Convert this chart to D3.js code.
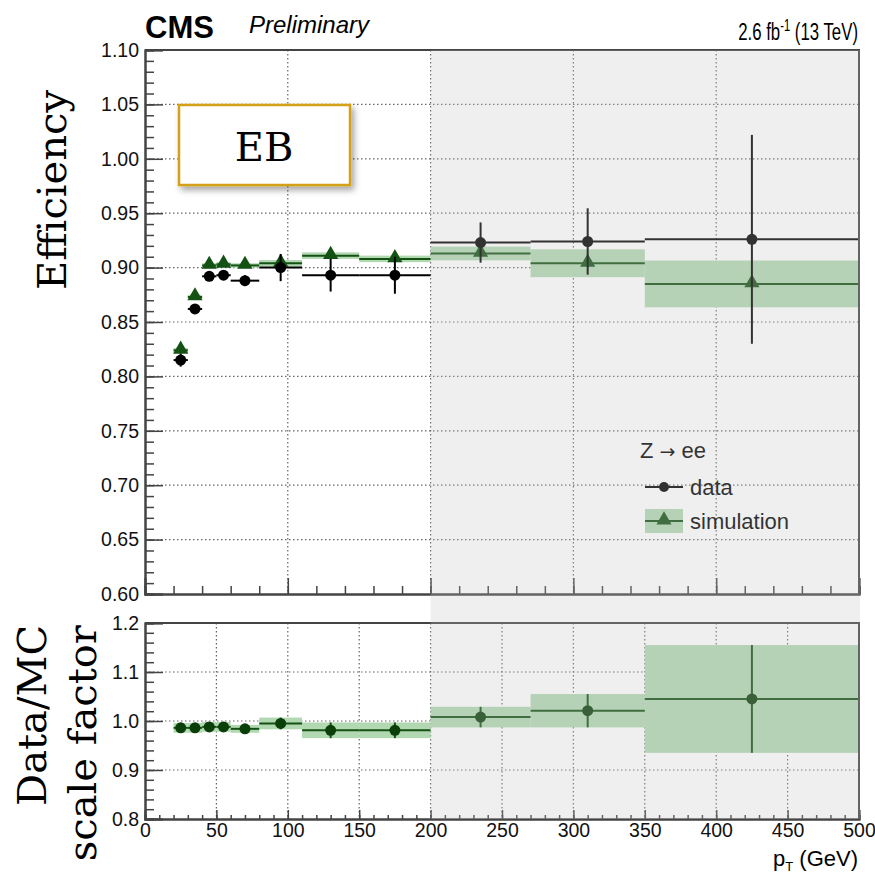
<!DOCTYPE html>
<html>
  <head>
    <meta charset="UTF-8">
    <title>EB efficiency</title>
    <script src="https://d3js.org/d3.v7.min.js"></script>
    <style>
      body { margin: 0; background: #fff; }
      text { font-family: "Liberation Sans", Arial, sans-serif; }
    </style>
  </head>
  <body>
    <svg width="875" height="882"></svg>
    <script>
      // pT bins (GeV)
      var binLo = [20, 30, 40, 50, 60, 80, 110, 150, 200, 270, 350];
      var binHi = [30, 40, 50, 60, 80, 110, 150, 200, 270, 350, 500];
      var ptCenter = [25, 35, 45, 55, 70, 95, 130, 175, 235, 310, 425];

      // efficiency in data
      var dataEff = [0.815, 0.862, 0.892, 0.893, 0.888, 0.900, 0.893, 0.893, 0.923, 0.924, 0.926];
      var dataErr = [0.006, 0.004, 0.004, 0.004, 0.005, 0.0125, 0.015, 0.017, 0.0185, 0.0305, 0.096];

      // efficiency in simulation
      var simEff = [0.824, 0.873, 0.902, 0.903, 0.902, 0.904, 0.911, 0.908, 0.913, 0.904, 0.885];
      var simErr = [0.002, 0.002, 0.002, 0.002, 0.002, 0.003, 0.003, 0.003, 0.0063, 0.0128, 0.0215];

      // data/MC scale factor
      var sfVal = [0.986, 0.986, 0.988, 0.988, 0.984, 0.995, 0.981, 0.981, 1.008, 1.021, 1.045];
      var sfErr = [0.010, 0.010, 0.010, 0.010, 0.008, 0.012, 0.016, 0.016, 0.021, 0.034, 0.110];

      var topTicks = [0.60, 0.65, 0.70, 0.75, 0.80, 0.85, 0.90, 0.95, 1.00, 1.05, 1.10];
      var botTicks = [0.8, 0.9, 1.0, 1.1, 1.2];
      var xTicks = [0, 50, 100, 150, 200, 250, 300, 350, 400, 450, 500];

      var svg = d3.select("svg");
      var simColor = "#145214", bandColor = "#b2d8b2", sfColor = "#0a3f0a";
      var axisColor = "#444";

      var x = d3.scaleLinear().domain([0, 500]).range([145, 859]);
      var yTop = d3.scaleLinear().domain([0.6, 1.1]).range([594, 50]);
      var yBot = d3.scaleLinear().domain([0.8, 1.2]).range([819, 623]);

      var defs = svg.append("defs");
      var shadow = defs.append("filter").attr("id", "shadow")
          .attr("x", "-20%").attr("y", "-20%").attr("width", "150%").attr("height", "160%");
      shadow.append("feDropShadow").attr("dx", 3).attr("dy", 4)
          .attr("stdDeviation", 3).attr("flood-color", "#000").attr("flood-opacity", 0.35);

      var idx = d3.range(binLo.length);

      // grid lines
      function dotted(sel) {
        return sel.attr("stroke", "#666").attr("stroke-width", 1.2)
            .attr("stroke-dasharray", "1.5,2.5").attr("fill", "none");
      }
      var grid = svg.append("g");
      [100, 200, 300, 400].forEach(function(v) {
        dotted(grid.append("line").attr("x1", x(v)).attr("x2", x(v)).attr("y1", yTop(1.1)).attr("y2", yTop(0.6)));
      });
      d3.range(0.65, 1.06, 0.05).forEach(function(v) {
        dotted(grid.append("line").attr("x1", x(0)).attr("x2", x(500)).attr("y1", yTop(v)).attr("y2", yTop(v)));
      });
      d3.range(50, 451, 50).forEach(function(v) {
        dotted(grid.append("line").attr("x1", x(v)).attr("x2", x(v)).attr("y1", yBot(1.2)).attr("y2", yBot(0.8)));
      });
      [0.9, 1.0, 1.1].forEach(function(v) {
        dotted(grid.append("line").attr("x1", x(0)).attr("x2", x(500)).attr("y1", yBot(v)).attr("y2", yBot(v)));
      });

      // EB box
      svg.append("rect").attr("x", 179).attr("y", 105).attr("width", 171).attr("height", 80)
          .attr("fill", "#fff").attr("stroke", "#d4a017").attr("stroke-width", 2.5)
          .attr("filter", "url(#shadow)");
      svg.append("text").attr("x", 264).attr("y", 161).attr("text-anchor", "middle")
          .style("font-family", "'DejaVu Serif', serif").style("font-size", "40px").text("EB");

      var tri = d3.symbol().type(d3.symbolTriangle).size(100);

      // simulation: band + line + triangle
      var sim = svg.append("g");
      sim.selectAll("rect").data(idx).join("rect")
          .attr("x", function(i) { return x(binLo[i]); })
          .attr("width", function(i) { return x(binHi[i]) - x(binLo[i]); })
          .attr("y", function(i) { return yTop(simEff[i] + simErr[i]); })
          .attr("height", function(i) { return yTop(simEff[i] - simErr[i]) - yTop(simEff[i] + simErr[i]); })
          .attr("fill", bandColor);
      sim.selectAll("line").data(idx).join("line")
          .attr("x1", function(i) { return x(binLo[i]); })
          .attr("x2", function(i) { return x(binHi[i]); })
          .attr("y1", function(i) { return yTop(simEff[i]); })
          .attr("y2", function(i) { return yTop(simEff[i]); })
          .attr("stroke", simColor).attr("stroke-width", 2);
      sim.selectAll("path").data(idx).join("path")
          .attr("d", tri)
          .attr("transform", function(i) { return "translate(" + x(ptCenter[i]) + "," + (yTop(simEff[i]) - 1) + ")"; })
          .attr("fill", simColor);

      // data: error bars + circle
      var dat = svg.append("g");
      dat.selectAll("line.h").data(idx).join("line").attr("class", "h")
          .attr("x1", function(i) { return x(binLo[i]); })
          .attr("x2", function(i) { return x(binHi[i]); })
          .attr("y1", function(i) { return yTop(dataEff[i]); })
          .attr("y2", function(i) { return yTop(dataEff[i]); })
          .attr("stroke", "#000").attr("stroke-width", 2);
      dat.selectAll("line.v").data(idx).join("line").attr("class", "v")
          .attr("x1", function(i) { return x(ptCenter[i]); })
          .attr("x2", function(i) { return x(ptCenter[i]); })
          .attr("y1", function(i) { return yTop(dataEff[i] + dataErr[i]); })
          .attr("y2", function(i) { return yTop(dataEff[i] - dataErr[i]); })
          .attr("stroke", "#000").attr("stroke-width", 2);
      dat.selectAll("circle").data(idx).join("circle")
          .attr("cx", function(i) { return x(ptCenter[i]); })
          .attr("cy", function(i) { return yTop(dataEff[i]); })
          .attr("r", 5.5).attr("fill", "#000");

      // ratio panel
      var rat = svg.append("g");
      rat.selectAll("rect").data(idx).join("rect")
          .attr("x", function(i) { return x(binLo[i]); })
          .attr("width", function(i) { return x(binHi[i]) - x(binLo[i]); })
          .attr("y", function(i) { return yBot(sfVal[i] + sfErr[i]); })
          .attr("height", function(i) { return yBot(sfVal[i] - sfErr[i]) - yBot(sfVal[i] + sfErr[i]); })
          .attr("fill", bandColor);
      rat.selectAll("line.h").data(idx).join("line").attr("class", "h")
          .attr("x1", function(i) { return x(binLo[i]); })
          .attr("x2", function(i) { return x(binHi[i]); })
          .attr("y1", function(i) { return yBot(sfVal[i]); })
          .attr("y2", function(i) { return yBot(sfVal[i]); })
          .attr("stroke", simColor).attr("stroke-width", 2);
      rat.selectAll("line.v").data(idx).join("line").attr("class", "v")
          .attr("x1", function(i) { return x(ptCenter[i]); })
          .attr("x2", function(i) { return x(ptCenter[i]); })
          .attr("y1", function(i) { return yBot(sfVal[i] + sfErr[i]); })
          .attr("y2", function(i) { return yBot(sfVal[i] - sfErr[i]); })
          .attr("stroke", simColor).attr("stroke-width", 2);
      rat.selectAll("circle").data(idx).join("circle")
          .attr("cx", function(i) { return x(ptCenter[i]); })
          .attr("cy", function(i) { return yBot(sfVal[i]); })
          .attr("r", 5.5).attr("fill", sfColor);

      // legend
      var leg = svg.append("g");
      var zee = leg.append("text").attr("x", 640).attr("y", 458).style("font-size", "22px");
      zee.append("tspan").text("Z ");
      zee.append("tspan").style("font-family", "'DejaVu Sans', sans-serif").style("font-size", "19px").text("\u2192");
      zee.append("tspan").text(" ee");
      leg.append("line").attr("x1", 645).attr("x2", 683).attr("y1", 487).attr("y2", 487)
          .attr("stroke", "#000").attr("stroke-width", 2);
      leg.append("circle").attr("cx", 664).attr("cy", 487).attr("r", 5).attr("fill", "#000");
      leg.append("text").attr("x", 690).attr("y", 495).style("font-size", "22px").text("data");
      leg.append("rect").attr("x", 645).attr("y", 509).attr("width", 38).attr("height", 24).attr("fill", bandColor);
      leg.append("line").attr("x1", 645).attr("x2", 683).attr("y1", 521).attr("y2", 521)
          .attr("stroke", simColor).attr("stroke-width", 2);
      leg.append("path").attr("d", tri).attr("transform", "translate(664,520)").attr("fill", simColor);
      leg.append("text").attr("x", 690).attr("y", 529).style("font-size", "22px").text("simulation");

      // axes
      function styleAxis(g) {
        g.select(".domain").attr("stroke", axisColor).attr("stroke-width", 2);
        g.selectAll(".tick line").attr("stroke", axisColor).attr("stroke-width", 1.5);
        g.selectAll(".tick text").attr("fill", "#111").style("font-size", "19.5px")
            .style("font-family", "'Liberation Sans', Arial, sans-serif");
      }
      var fmt2 = d3.format(".2f"), fmt1 = d3.format(".1f");

      svg.append("g").attr("transform", "translate(145,0)")
          .call(d3.axisRight(yTop).tickValues(d3.range(0.60, 1.1001, 0.01)).tickSize(9).tickFormat(""))
          .call(styleAxis);
      svg.append("g").attr("transform", "translate(145,0)")
          .call(d3.axisRight(yTop).tickValues(topTicks).tickSize(18).tickFormat(""))
          .call(styleAxis);
      svg.append("g").attr("transform", "translate(145,0)")
          .call(d3.axisLeft(yTop).tickValues(topTicks).tickSize(0).tickPadding(6).tickFormat(fmt2))
          .call(styleAxis).select(".domain").remove();

      svg.append("g").attr("transform", "translate(0,594)")
          .call(d3.axisTop(x).tickValues(d3.range(0, 501, 20)).tickSize(8).tickFormat(""))
          .call(styleAxis);
      svg.append("g").attr("transform", "translate(0,594)")
          .call(d3.axisTop(x).tickValues([0, 100, 200, 300, 400, 500]).tickSize(16).tickFormat(""))
          .call(styleAxis);

      svg.append("g").attr("transform", "translate(145,0)")
          .call(d3.axisRight(yBot).tickValues(d3.range(0.8, 1.2001, 0.02)).tickSize(9).tickFormat(""))
          .call(styleAxis);
      svg.append("g").attr("transform", "translate(145,0)")
          .call(d3.axisRight(yBot).tickValues(botTicks).tickSize(18).tickFormat(""))
          .call(styleAxis);
      svg.append("g").attr("transform", "translate(145,0)")
          .call(d3.axisLeft(yBot).tickValues(botTicks).tickSize(0).tickPadding(6).tickFormat(fmt1))
          .call(styleAxis).select(".domain").remove();

      svg.append("g").attr("transform", "translate(0,819)")
          .call(d3.axisTop(x).tickValues(d3.range(0, 501, 10)).tickSize(4).tickFormat(""))
          .call(styleAxis);
      svg.append("g").attr("transform", "translate(0,819)")
          .call(d3.axisTop(x).tickValues(xTicks).tickSize(9).tickFormat(""))
          .call(styleAxis);
      svg.append("g").attr("transform", "translate(0,819)")
          .call(d3.axisBottom(x).tickValues(xTicks).tickSize(0).tickPadding(4).tickFormat(d3.format("d")))
          .call(styleAxis).select(".domain").remove();

      // frames (top and right edges)
      [[yTop(1.1), yTop(0.6)], [yBot(1.2), yBot(0.8)]].forEach(function(r) {
        svg.append("path")
            .attr("d", "M" + x(0) + "," + r[0] + "H" + x(500) + "V" + r[1])
            .attr("fill", "none").attr("stroke", axisColor).attr("stroke-width", 2);
      });

      // grey overlay for pT > 200 GeV
      svg.append("rect").attr("x", x(200)).attr("y", yTop(1.1))
          .attr("width", x(500) - x(200) + 1).attr("height", yBot(0.8) - yTop(1.1))
          .attr("fill", "#c2c2c2").attr("opacity", 0.26);

      // header
      svg.append("text").attr("x", 145).attr("y", 38).style("font-size", "31px")
          .style("font-weight", "bold").text("CMS");
      svg.append("text").attr("x", 249).attr("y", 33).style("font-size", "24px")
          .style("font-style", "italic").text("Preliminary");
      var lumi = svg.append("text").attr("transform", "translate(858,40) scale(0.7,1)")
          .attr("text-anchor", "end").style("font-size", "24px");
      lumi.append("tspan").text("2.6 fb");
      lumi.append("tspan").attr("dy", -9).style("font-size", "16px").text("-1");
      lumi.append("tspan").attr("dy", 9).text(" (13 TeV)");

      // axis titles
      var serif = "'DejaVu Serif', serif";
      svg.append("text").attr("transform", "translate(66,190) rotate(-90)")
          .attr("text-anchor", "middle").style("font-family", serif).style("font-size", "40px")
          .text("Efficiency");
      svg.append("text").attr("transform", "translate(46,625) rotate(-90)")
          .attr("text-anchor", "end").style("font-family", serif).style("font-size", "40px")
          .text("Data/MC");
      svg.append("text").attr("transform", "translate(96,625) rotate(-90)")
          .attr("text-anchor", "end").style("font-family", serif).style("font-size", "40px")
          .text("scale factor");

      var ptTitle = svg.append("text").attr("x", 858).attr("y", 866).attr("text-anchor", "end")
          .style("font-size", "22px");
      ptTitle.append("tspan").text("p");
      ptTitle.append("tspan").attr("dy", 5).style("font-size", "13px").text("T");
      ptTitle.append("tspan").attr("dy", -5).text(" (GeV)");
    </script>
  </body>
</html>
